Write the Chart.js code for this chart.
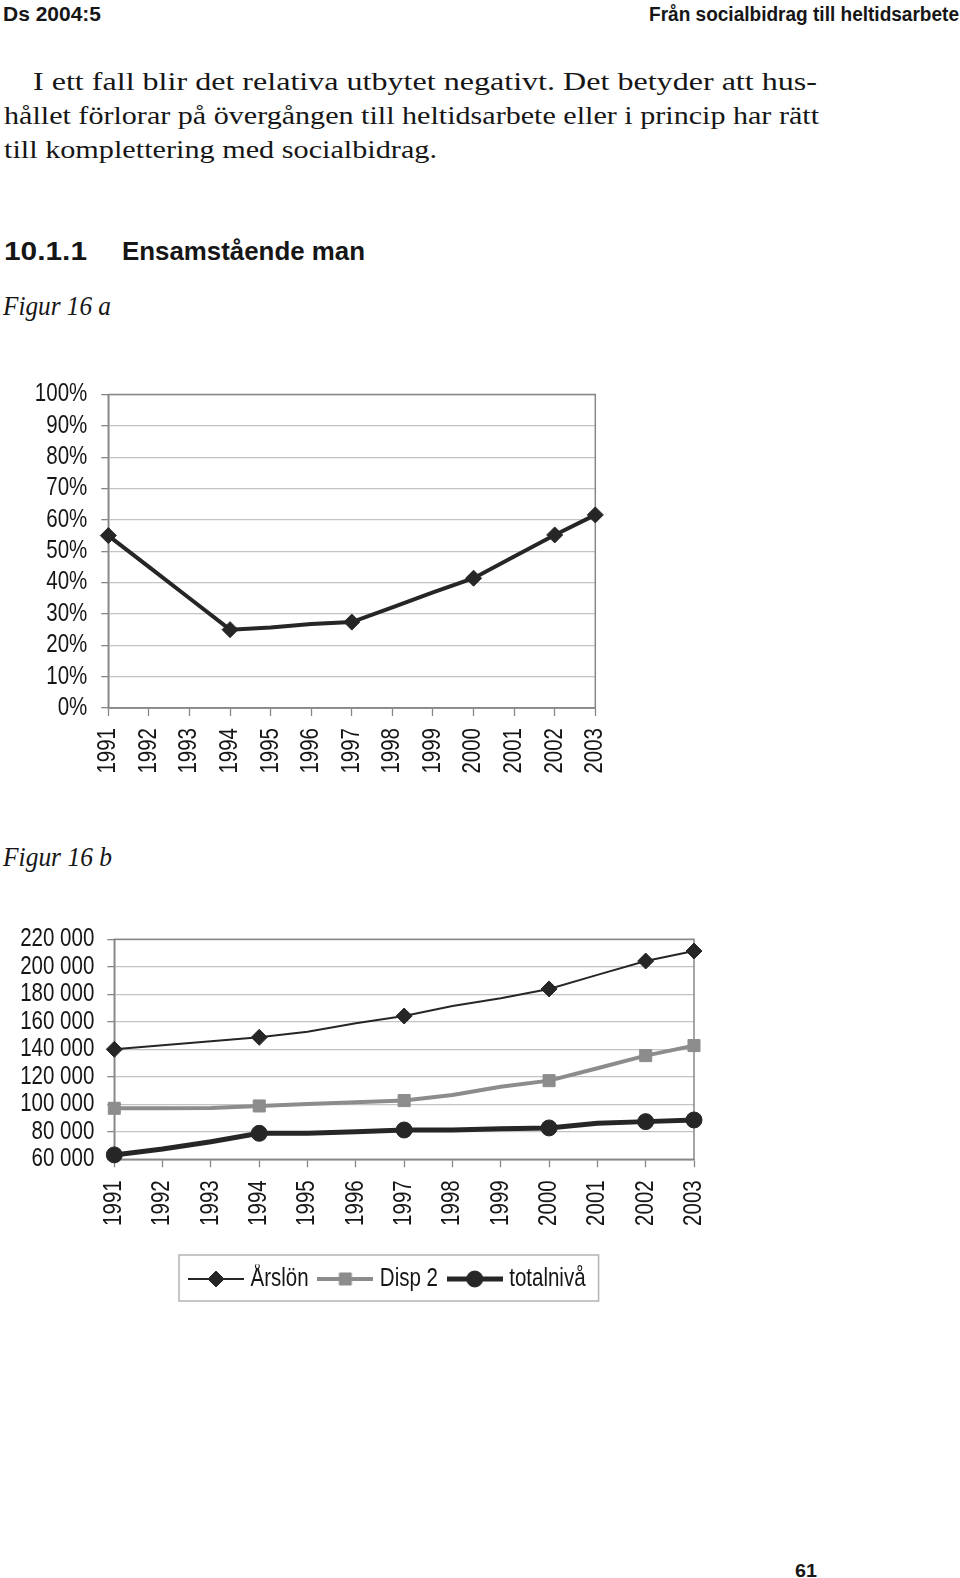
<!DOCTYPE html>
<html lang="sv">
<head>
<meta charset="utf-8">
<title>Figur 16 a och b – Ensamstående man</title>
<script src="https://cdn.jsdelivr.net/npm/chart.js@4/dist/chart.umd.min.js"></script>
<style>
  html, body { margin: 0; padding: 0; background: #fff; }
  body { width: 960px; height: 1578px; position: relative; overflow: hidden; color: #161616; }
  .t { position: absolute; white-space: nowrap; line-height: 1; transform-origin: 0 0; }
  .sans { font-family: 'Liberation Sans', Arial, sans-serif; font-weight: bold; }
  .serif { font-family: 'Liberation Serif', 'Times New Roman', serif; }
  .kursiv { font-style: italic; }
  .figur { position: absolute; left: 0; }
</style>
</head>
<body>

<div class="t sans" data-x="3" data-base="21" data-w="98" style="font-size:20px">Ds 2004:5</div>
<div class="t sans" data-x="649" data-base="21" data-w="310" style="font-size:20px">Från socialbidrag till heltidsarbete</div>

<div class="t serif" data-x="33" data-base="90" data-w="784" style="font-size:25px">I ett fall blir det relativa utbytet negativt. Det betyder att hus-</div>
<div class="t serif" data-x="4" data-base="124" data-w="815" style="font-size:25px">hållet förlorar på övergången till heltidsarbete eller i princip har rätt</div>
<div class="t serif" data-x="4" data-base="158" data-w="433" style="font-size:25px">till komplettering med socialbidrag.</div>

<div class="t sans" data-x="4" data-base="260" data-w="83" style="font-size:26px">10.1.1</div>
<div class="t sans" data-x="122" data-base="260" data-w="243" style="font-size:26px">Ensamstående man</div>

<div class="t serif kursiv" data-x="3" data-base="315" data-w="108" style="font-size:27px">Figur 16 a</div>
<div class="figur" style="top:370px"><canvas id="figurA" width="620" height="420"></canvas></div>

<div class="t serif kursiv" data-x="3" data-base="866" data-w="109" style="font-size:27px">Figur 16 b</div>
<div class="figur" style="top:920px"><canvas id="figurB" width="720" height="400"></canvas></div>

<div class="t sans" data-x="795" data-base="1577" data-w="22" style="font-size:19px">61</div>

<script>
// Gemensamma kategorier
const years = ['1991', '1992', '1993', '1994', '1995', '1996', '1997', '1998', '1999', '2000', '2001', '2002', '2003'];
const markerYears = ['1991', '1994', '1997', '2000', '2002', '2003'];

// Figur 16 a: relativt utbyte (%)
const utbyteA = [55.0, 45.0, 35.0, 25.0, 25.7, 26.8, 27.4, 32.1, 36.9, 41.4, 48.3, 55.2, 61.6];
const yMinA = 0, yMaxA = 100, yStepA = 10;

// Figur 16 b: kronor per år
const arslon = [140000, 142900, 145800, 148700, 152800, 158900, 164200, 171500, 177100, 183900, 194100, 204200, 211500];
const disp2 = [97100, 97100, 97300, 98800, 100200, 101500, 102700, 106800, 112800, 117200, 126200, 135400, 142700];
const totalniva = [63200, 67500, 72800, 78900, 78900, 80100, 81300, 81300, 82300, 82800, 86200, 87400, 88600];
const seriesNamesB = ['Årslön', 'Disp 2', 'totalnivå'];
const yMinB = 60000, yMaxB = 220000, yStepB = 20000;

// Stil
const sansFam = "'Liberation Sans', Arial, sans-serif";
const tickFont = { family: sansFam, size: 25, lineHeight: 1 };
const legendFont = { family: sansFam, size: 25 };
const dark = '#262626';
const grey = '#8c8c8c';
const axisGrey = '#878787';
const gridGrey = '#c3c3c3';
const smalFaktor = 0.82; // originalet har en smal grotesk

const markerRadius = r => ctx => markerYears.includes(years[ctx.dataIndex]) ? r : 0;
const tusental = v => String(v).replace(/\B(?=(\d{3})+(?!\d))/g, ' ');

// trycker ihop texten i sidled, ingen smal font finns installerad
const smalText = {
    id: 'smalText',
    beforeInit(chart) {
        const ctx = chart.ctx;
        const orig = ctx.fillText.bind(ctx);
        ctx.fillText = (text, x, y, maxWidth) => {
            const w = ctx.measureText(text).width * smalFaktor;
            orig(text, x, y, maxWidth === undefined ? w : Math.min(w, maxWidth));
        };
    }
};

// ram runt ritytan (Excel-stil)
const ritram = {
    id: 'ritram',
    beforeDatasetsDraw(chart) {
        const { ctx, chartArea: a } = chart;
        ctx.save();
        ctx.strokeStyle = axisGrey;
        ctx.lineWidth = 1.5;
        ctx.strokeRect(a.left, a.top, a.right - a.left, a.bottom - a.top);
        ctx.restore();
    }
};

function skalor(yWidth, xHeight, yMin, yMax, yStep, yFmt, yPad, xPad) {
    return {
        x: {
            grid: { drawOnChartArea: false, tickLength: 8, tickColor: axisGrey, tickWidth: 1.3 },
            border: { color: axisGrey, width: 1.5 },
            ticks: { autoSkip: false, maxRotation: 90, minRotation: 90, padding: xPad, color: '#161616', font: tickFont },
            afterFit(s) { s.height = xHeight; s.paddingLeft = 0; s.paddingRight = 0; }
        },
        y: {
            min: yMin, max: yMax,
            grid: { color: gridGrey, lineWidth: 1.3, tickLength: 7, tickColor: axisGrey, tickWidth: 1.3 },
            border: { color: axisGrey, width: 1.5 },
            ticks: { stepSize: yStep, autoSkip: false, padding: yPad, color: '#161616', font: tickFont, callback: yFmt },
            afterFit(s) { s.width = yWidth; s.paddingTop = 0; s.paddingBottom = 0; }
        }
    };
}

// Figur 16 a
new Chart(document.getElementById('figurA'), {
    type: 'line',
    data: {
        labels: years,
        datasets: [{
            label: 'Relativt utbyte',
            data: utbyteA,
            borderColor: dark,
            borderWidth: 4,
            tension: 0,
            clip: false,
            pointStyle: 'rectRot',
            pointRadius: markerRadius(8),
            pointBackgroundColor: dark,
            pointBorderColor: dark,
            pointBorderWidth: 1
        }]
    },
    options: {
        responsive: false,
        animation: false,
        layout: { padding: { left: 0, top: 24.5, right: 24.7, bottom: 0 } },
        plugins: { legend: { display: false }, tooltip: { enabled: false } },
        scales: skalor(108.3, 82, yMinA, yMaxA, yStepA, v => v + '%', 14, 12)
    },
    plugins: [smalText, ritram]
});

// Figur 16 b
const stilB = [
    { color: dark, width: 2, style: 'rectRot', radius: 8 },
    { color: grey, width: 4, style: 'rect', radius: 8.5 },
    { color: dark, width: 5, style: 'circle', radius: 8 }
];
const seriesB = [arslon, disp2, totalniva];

const datasetsB = seriesB.map((values, i) => ({
    label: seriesNamesB[i],
    data: values,
    borderColor: stilB[i].color,
    borderWidth: stilB[i].width,
    tension: 0,
    clip: false,
    pointStyle: stilB[i].style,
    pointRadius: markerRadius(stilB[i].radius),
    pointBackgroundColor: stilB[i].color,
    pointBorderColor: stilB[i].color,
    pointBorderWidth: 1
}));

// små bilder med linje + markör till förklaringen
function legendIkon(s) {
    const c = document.createElement('canvas');
    c.width = 56; c.height = 22;
    const g = c.getContext('2d');
    g.strokeStyle = s.color;
    g.lineWidth = s.width;
    g.beginPath(); g.moveTo(0, 11); g.lineTo(56, 11); g.stroke();
    g.fillStyle = s.color;
    g.lineWidth = 1;
    if (Chart.helpers && Chart.helpers.drawPoint) {
        Chart.helpers.drawPoint(g, { pointStyle: s.style, radius: s.radius, rotation: 0, borderWidth: 1 }, 28, 11);
    } else {
        g.beginPath();
        if (s.style === 'circle') g.arc(28, 11, s.radius, 0, Math.PI * 2);
        else if (s.style === 'rect') { const h = s.radius * Math.SQRT1_2; g.rect(28 - h, 11 - h, 2 * h, 2 * h); }
        else { g.moveTo(28, 11 - s.radius); g.lineTo(28 + s.radius, 11); g.lineTo(28, 11 + s.radius); g.lineTo(28 - s.radius, 11); g.closePath(); }
        g.fill(); g.stroke();
    }
    return c;
}
const legendIkoner = stilB.map(legendIkon);

const ikonBredd = 44;
const legendStart = 194;
const legendRam = {
    id: 'legendRam',
    afterUpdate(chart) {
        const lg = chart.legend;
        if (!lg || !lg.legendHitBoxes || !lg.legendHitBoxes.length) return;
        const dx = legendStart - lg.legendHitBoxes[0].left;
        lg.left += dx;
        lg.right += dx;
        lg.legendHitBoxes.forEach(h => { h.left += dx; });
    },
    afterDraw(chart) {
        const lg = chart.legend;
        const hb = lg.legendHitBoxes;
        if (!hb || !hb.length) return;
        const { ctx } = chart;
        const first = hb[0], last = hb[hb.length - 1];
        ctx.save();
        ctx.font = `${legendFont.size}px ${sansFam}`;
        const sistaText = ctx.measureText(seriesNamesB[seriesNamesB.length - 1]).width * smalFaktor;
        const x0 = first.left - 15;
        const x1 = last.left + ikonBredd + legendFont.size / 2 + sistaText + 13;
        const yc = lg.top + lg.options.labels.padding + legendFont.size / 2;
        ctx.strokeStyle = '#b4b4b4';
        ctx.lineWidth = 1.5;
        ctx.strokeRect(x0, yc - 24, x1 - x0, 46);
        ctx.restore();
    }
};

new Chart(document.getElementById('figurB'), {
    type: 'line',
    data: { labels: years, datasets: datasetsB },
    options: {
        responsive: false,
        animation: false,
        layout: { padding: { left: 0, top: 19.3, right: 26, bottom: 18.5 } },
        plugins: {
            tooltip: { enabled: false },
            legend: {
                position: 'bottom',
                labels: {
                    usePointStyle: true,
                    pointStyleWidth: ikonBredd,
                    padding: 2,
                    color: '#161616',
                    font: legendFont,
                    generateLabels(chart) {
                        const items = Chart.defaults.plugins.legend.labels.generateLabels(chart);
                        items.forEach(it => { it.pointStyle = legendIkoner[it.datasetIndex]; });
                        return items;
                    }
                }
            }
        },
        scales: skalor(114.3, 105.2, yMinB, yMaxB, yStepB, tusental, 13, 13)
    },
    plugins: [smalText, ritram, legendRam]
});

// placera texterna på sina baslinjer och anpassa bredden
document.querySelectorAll('.t').forEach(el => {
    const m = document.createElement('span');
    m.style.cssText = 'display:inline-block;width:0;height:0;vertical-align:baseline';
    el.appendChild(m);
    const off = m.offsetTop;
    el.style.left = el.dataset.x + 'px';
    el.style.top = (parseFloat(el.dataset.base) - off) + 'px';
    const natur = el.getBoundingClientRect().width;
    const mal = parseFloat(el.dataset.w);
    if (natur > 0 && mal) el.style.transform = 'scaleX(' + (mal / natur).toFixed(4) + ')';
});
</script>
</body>
</html>
